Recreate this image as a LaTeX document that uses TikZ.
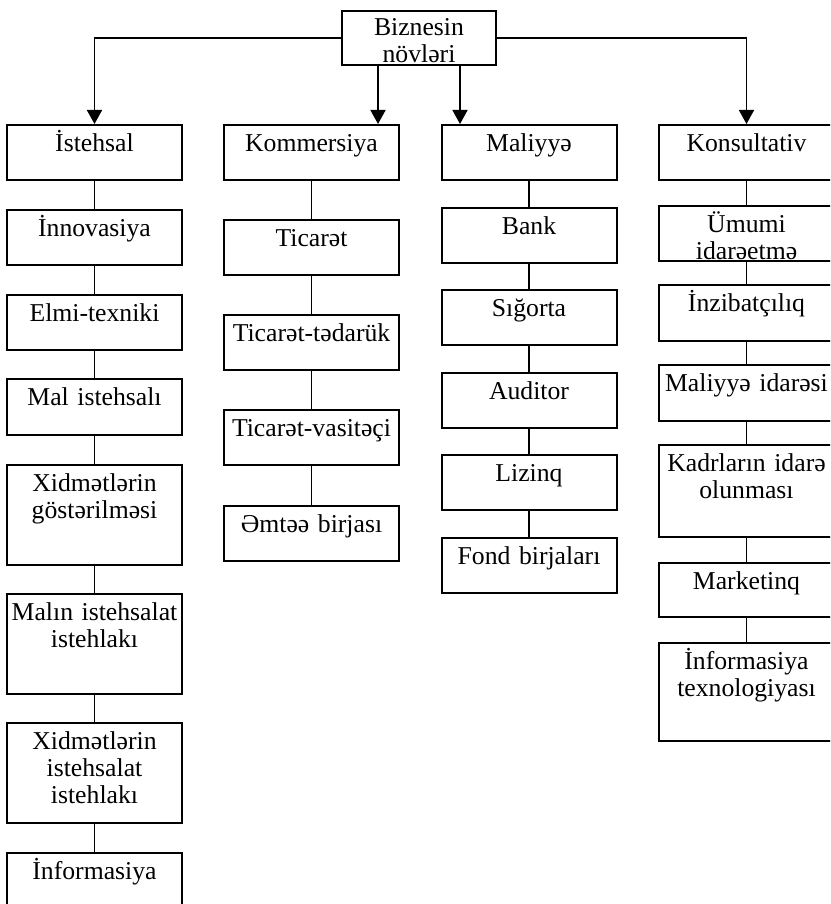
\documentclass[tikz,border=0pt]{standalone}
\usepackage{fontspec}
\setmainfont{Liberation Serif}
\usetikzlibrary{arrows.meta}

\tikzset{
  box/.style={draw, line width=2pt, anchor=north, inner sep=0pt,
    text width=175pt, align=center, text height=26.5pt, text depth={#1pt-26.5pt}},
  box/.default=55,
  link/.style={line width=1.7pt},
  arr/.style={line width=1.7pt, -{Triangle[width=15pt,length=14pt]}}
}

\begin{document}
\begin{tikzpicture}[x=1pt,y=-1pt,font=\fontsize{25.7}{27}\selectfont]
\useasboundingbox (0,0) rectangle (830,904);
\clip (0,0) rectangle (830,904);

\node[box, text width=154pt, text height=25pt, text depth=29pt] (root) at (419,10) {Biznesin\\növləri};

% istehsal
\node[box] (ist) at (94.5,124) {İstehsal};
\node[box] (inn) at (94.5,209) {İnnovasiya};
\node[box] (elm) at (94.5,294) {Elmi-texniki};
\node[box=56] (mal) at (94.5,378) {Mal istehsalı};
\node[box=100] (xgo) at (94.5,464) {Xidmətlərin\\göstərilməsi};
\node[box=100] (mis) at (94.5,593) {Malın istehsalat\\istehlakı};
\node[box=100] (xis) at (94.5,722) {Xidmətlərin\\istehsalat\\istehlakı};
\node[box=100] (inf) at (94.5,852) {İnformasiya};

% kommersiya
\node[box] (kom) at (311.5,124) {Kommersiya};
\node[box] (tic) at (311.5,219) {Ticarət};
\node[box] (tte) at (311.5,314) {Ticarət-tədarük};
\node[box] (tva) at (311.5,409) {Ticarət-vasitəçi};
\node[box] (emt) at (311.5,505) {Əmtəə birjası};

% maliyye
\node[box] (mly) at (529,124) {Maliyyə};
\node[box] (ban) at (529,207) {Bank};
\node[box] (sig) at (529,289) {Sığorta};
\node[box] (aud) at (529,372) {Auditor};
\node[box] (liz) at (529,454) {Lizinq};
\node[box] (fon) at (529,537) {Fond birjaları};

% konsultativ
\node[box] (kon) at (746.5,124) {Konsultativ};
\node[box, text height=26pt, text depth=29pt] (umu) at (746.5,205) {Ümumi\\idarəetmə};
\node[box=56] (inz) at (746.5,284) {İnzibatçılıq};
\node[box=56] (mid) at (746.5,364) {Maliyyə idarəsi};
\node[box=92] (kad) at (746.5,444) {Kadrların idarə\\olunması};
\node[box=54] (mar) at (746.5,562) {Marketinq};
\node[box=98] (itx) at (746.5,642) {İnformasiya\\texnologiyası};

\draw[arr] (root.west) -| (ist.north);
\draw[arr] (root.east) -| (kon.north);
\draw[arr] ([xshift=-41pt]root.south) -- ([xshift=-41pt]root.south |- kom.north);
\draw[arr] ([xshift=41pt]root.south) -- ([xshift=41pt]root.south |- mly.north);

\draw[link] (ist.south) -- (inn.north) (inn.south) -- (elm.north)
  (elm.south) -- (mal.north) (mal.south) -- (xgo.north)
  (xgo.south) -- (mis.north) (mis.south) -- (xis.north)
  (xis.south) -- (inf.north);
\draw[link] (kom.south) -- (tic.north) (tic.south) -- (tte.north)
  (tte.south) -- (tva.north) (tva.south) -- (emt.north);
\draw[link] (mly.south) -- (ban.north) (ban.south) -- (sig.north)
  (sig.south) -- (aud.north) (aud.south) -- (liz.north)
  (liz.south) -- (fon.north);
\draw[link] (kon.south) -- (umu.north) (umu.south) -- (inz.north)
  (inz.south) -- (mid.north) (mid.south) -- (kad.north)
  (kad.south) -- (mar.north) (mar.south) -- (itx.north);
\end{tikzpicture}
\end{document}
